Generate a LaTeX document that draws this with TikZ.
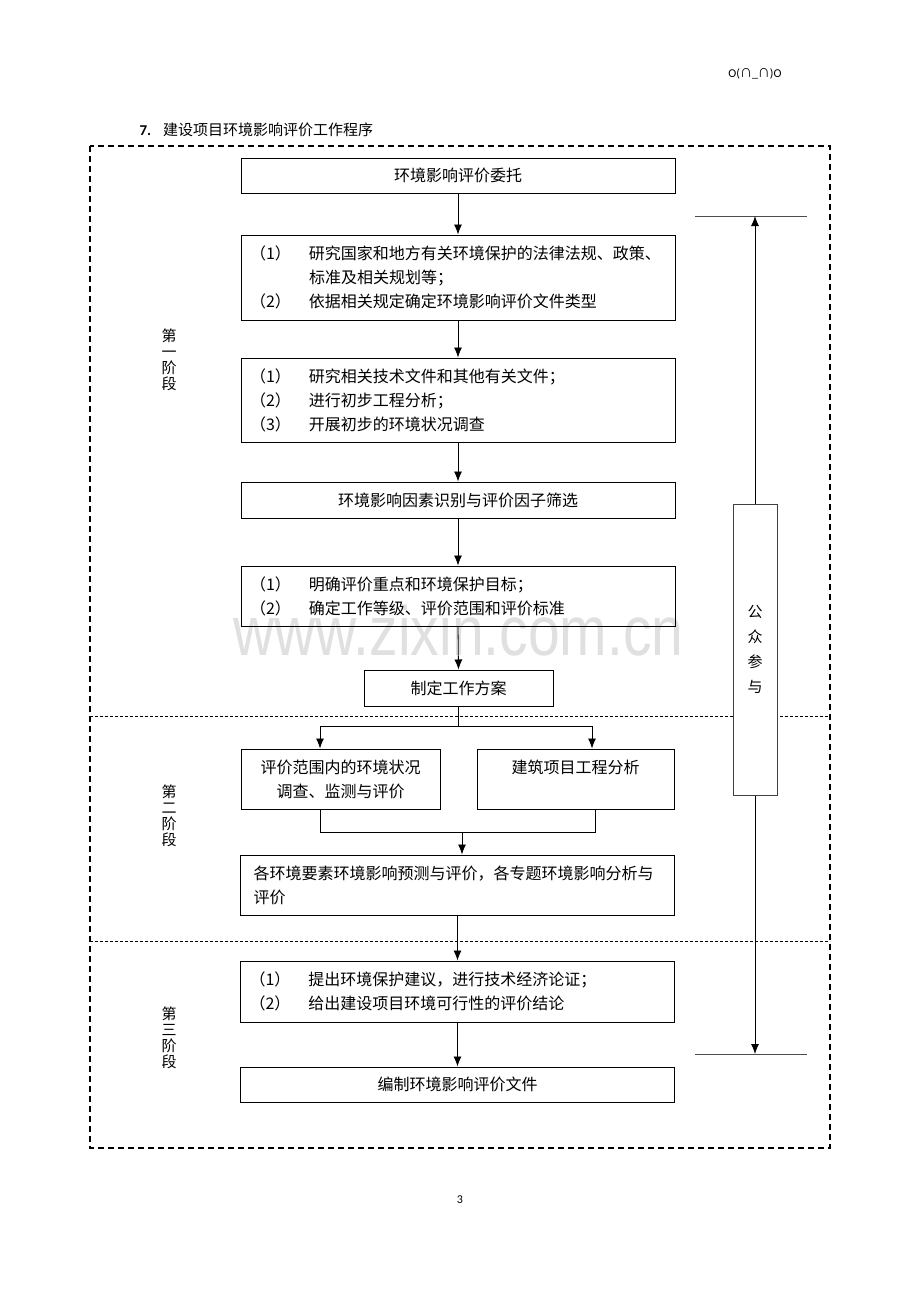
\documentclass[tikz,border=0pt]{standalone}
\usepackage{fontspec}
\setmainfont{Carlito}
\newfontfamily\cjk{Noto Sans CJK SC}
\newfontfamily\wmfont{Liberation Sans}
\usetikzlibrary{arrows.meta,calc}

\newcommand\itemno[1]{\makebox[59pt][l]{（#1）}}

\begin{document}
\begin{tikzpicture}[x=1pt,y=-1pt,
  every node/.style={align=center,font=\cjk\fontsize{16}{24}\selectfont},
  box/.style={draw,line width=1pt,inner xsep=9pt,inner ysep=0pt,minimum height=#1},
  box/.default=36pt,
  wide/.style={box=#1,text width=416pt},
  wide/.default=36pt,
  stage/.style={font=\cjk\fontsize{15}{16}\selectfont},
  arr/.style={-{Latex[length=10pt,width=8pt]},line width=0.8pt},
  link/.style={line width=0.8pt},
  rule/.style={line width=1pt,black!70},
  frame/.style={dash pattern=on 6pt off 4pt,line width=1.4pt},
  sep/.style={dash pattern=on 3pt off 2pt,line width=0.8pt}]
\useasboundingbox (0,0) rectangle (920,1302);
\fill[white] (0,0) rectangle (920,1302);
\node [anchor=base,text=black!12,font=\wmfont\fontsize{70}{70}\selectfont] (mark) at (458.5,655) {\scalebox{0.815}[1]{www.zixin.com.cn}};
\node [font=\fontsize{12}{12}\selectfont] (header) at (755,74) {O(\cjk ∩\rmfamily\_\cjk ∩\rmfamily)O};
\node [anchor=west,font=\cjk\fontsize{15}{15}\selectfont] (title) at (136,130) {\rmfamily\bfseries 7.\hspace{12pt}\cjk\mdseries 建设项目环境影响评价工作程序};
\node [font=\rmfamily\fontsize{12}{12}\selectfont] (page) at (460,1200) {3};
\draw [frame] (90,146) rectangle (830,1148);
\draw [sep] (90,716) -- (830,716);
\draw [sep] (90,941) -- (830,941);
\node [stage] (stage1) at (169,360) {第\\一\\阶\\段};
\node [stage] (stage2) at (169,816) {第\\二\\阶\\段};
\node [stage] (stage3) at (169,1038) {第\\三\\阶\\段};
\node [wide=35pt] (entrust) at (458,175.5) {环境影响评价委托};
\node [wide=85pt,align=left] (laws) at (458,277.5) {\itemno{1}研究国家和地方有关环境保护的法律法规、政策、\\\hspace*{59pt}标准及相关规划等；\\\itemno{2}依据相关规定确定环境影响评价文件类型};
\node [wide=84pt,align=left] (survey) at (458,400) {\itemno{1}研究相关技术文件和其他有关文件；\\\itemno{2}进行初步工程分析；\\\itemno{3}开展初步的环境状况调查};
\node [wide=36pt] (factors) at (458,500) {环境影响因素识别与评价因子筛选};
\node [wide=60pt,align=left] (focus) at (458,596) {\itemno{1}明确评价重点和环境保护目标；\\\itemno{2}确定工作等级、评价范围和评价标准};
\node [box=36pt,minimum width=189pt] (plan) at (458.5,688) {制定工作方案};
\node [box=60pt,minimum width=199pt] (status) at (340.5,779) {评价范围内的环境状况\\调查、监测与评价};
\node [box=60pt,minimum width=197pt] (project) at (575.5,779) {建筑项目工程分析\\\mbox{}};
\node [box=60pt,inner xsep=13pt,text width=408pt,align=left] (predict) at (457.5,885) {各环境要素环境影响预测与评价，各专题环境影响分析与\\评价};
\node [wide=61pt,align=left] (advice) at (457.5,991.5) {\itemno{1}提出环境保护建议，进行技术经济论证；\\\itemno{2}给出建设项目环境可行性的评价结论};
\node [wide=35pt] (report) at (457.5,1084.5) {编制环境影响评价文件};
\node [box=291pt,minimum width=44pt,inner xsep=0pt,draw=black!75,fill=white,font=\cjk\fontsize{15}{25}\selectfont] (public) at (755,649.5) {公\\众\\参\\与};
\draw [arr] (entrust.south) -- (laws.north);
\draw [arr] (laws.south) -- (survey.north);
\draw [arr] (survey.south) -- (factors.north);
\draw [arr] (factors.south) -- (focus.north);
\draw [arr] (focus.south) -- (plan.north);
\coordinate (split) at ($(plan.south)+(0,20)$);
\coordinate (splitL) at (320,726);
\coordinate (splitR) at (592,726);
\draw [link] (plan.south) -- (split);
\draw [link] (splitL) -- (splitR);
\draw [arr] (splitL) -- (splitL |- status.north);
\draw [arr] (splitR) -- (splitR |- project.north);
\coordinate (joinL) at (320,832);
\coordinate (joinR) at (595,832);
\coordinate (join) at (462,832);
\draw [link] (joinL |- status.south) -- (joinL) -- (joinR) -- (joinR |- project.south);
\draw [arr] (join) -- (join |- predict.north);
\draw [arr] (predict.south) -- (advice.north);
\draw [arr] (advice.south) -- (report.north);
\coordinate (ppTopL) at (695,216);
\coordinate (ppTopR) at (807,216);
\coordinate (ppBotL) at (695,1054);
\coordinate (ppBotR) at (807,1054);
\draw [rule] (ppTopL) -- (ppTopR);
\draw [rule] (ppBotL) -- (ppBotR);
\draw [arr] (public.north) -- (public.north |- ppTopL);
\draw [arr] (public.south) -- (public.south |- ppBotL);
\end{tikzpicture}
\end{document}
